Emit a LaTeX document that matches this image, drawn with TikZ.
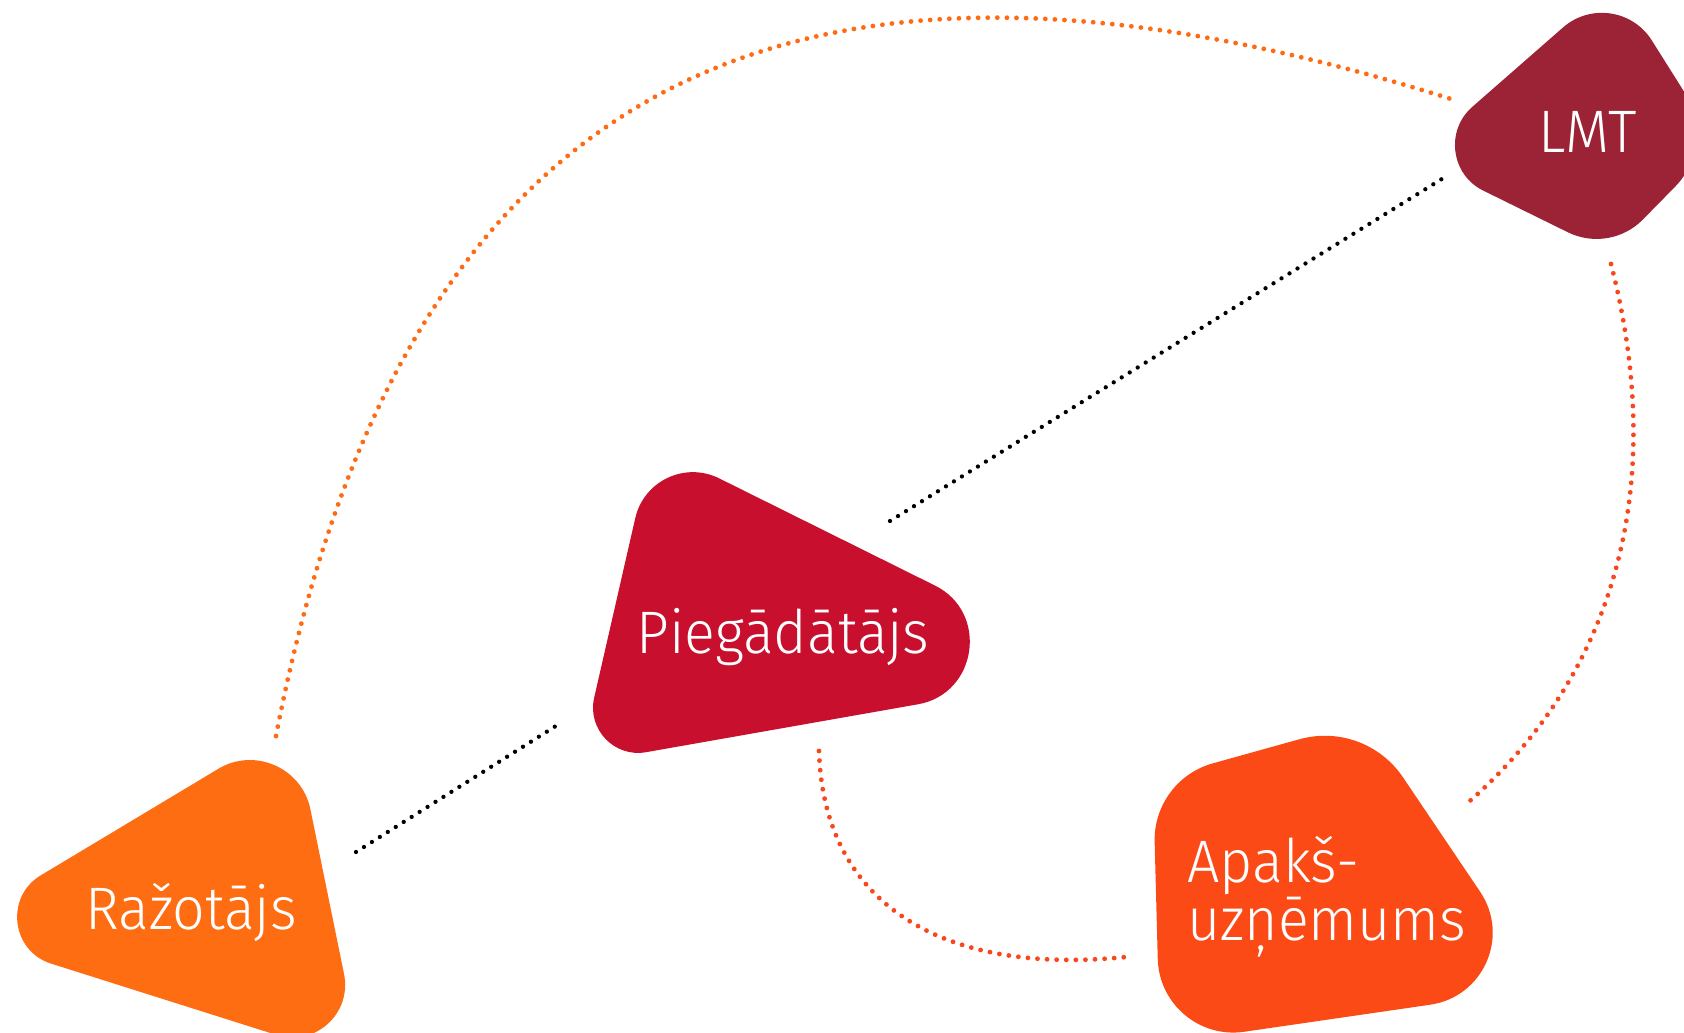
\documentclass[tikz,border=0pt]{standalone}
\usepackage{fontspec}
\IfFontExistsTF{Fira Sans Light}{\setmainfont{Fira Sans Light}[FakeStretch=0.955]}{\setmainfont{Fira Sans}[FakeStretch=0.955]}
\usetikzlibrary{calc}
\definecolor{cRaz}{HTML}{FF6D13}
\definecolor{cPie}{HTML}{C8102E}
\definecolor{cApa}{HTML}{FC4A17}
\definecolor{cLmt}{HTML}{9B2335}
\definecolor{cDotO}{HTML}{FF6A13}
\definecolor{cDotR}{HTML}{F9461C}
% rounded corner: prev, vertex, next, trim, control fraction
\newcommand\rcorner[5]{($(#2)!#4pt!(#1)$) .. controls ($(#2)!#5*#4pt!(#1)$) and ($(#2)!#5*#4pt!(#3)$) .. ($(#2)!#4pt!(#3)$)}
\begin{document}
\begin{tikzpicture}[x=1pt,y=-1pt,
  lbl/.style={text=white,inner sep=0pt,font=\fontsize{60}{58}\selectfont},
  dotsO/.style={draw=cDotO,line width=4.8,line cap=round,dash pattern=on 0pt off 9.6pt},
  dotsR/.style={draw=cDotR,line width=4.8,line cap=round,dash pattern=on 0pt off 9.6pt},
  dotsK/.style={draw=black,line width=4.3,line cap=round,dash pattern=on 0pt off 9.4pt}]
\useasboundingbox (0,0) rectangle (1684,1033);
\fill[white] (0,0) rectangle (1684,1033);
\clip (0,0) rectangle (1684,1033);
% vertices
\coordinate (rT) at (293,724);
\coordinate (rL) at (-52,931);
\coordinate (rB) at (362,1062);
\coordinate (pTL) at (652,445);
\coordinate (pBL) at (579,764);
\coordinate (pR) at (1107,671);
\coordinate (aTL) at (1153,780);
\coordinate (aT) at (1365,721);
\coordinate (aR) at (1545,988);
\coordinate (aBL) at (1160,1044);
\coordinate (lT) at (1615,-18);
\coordinate (lL) at (1415,157);
\coordinate (lB) at (1610,253);
\coordinate (lR) at (1717,144);
% connector ends
\coordinate (razTop) at (276,736);
\coordinate (lmtLeftUp) at (1451,99);
\coordinate (pieUp) at (890,521);
\coordinate (lmtLeftDown) at (1445,177);
\coordinate (razRight) at (356,852);
\coordinate (pieLeft) at (559,724);
\coordinate (lmtBottom) at (1611,264);
\coordinate (apaRight) at (1464,806);
\coordinate (pieBottom) at (819,751);
\coordinate (apaLeft) at (1126,957);
% connectors
\draw[dotsO] (razTop) .. controls (408,49) and (822,-100) .. (lmtLeftUp);
\draw[dotsK] (pieUp) -- (lmtLeftDown);
\draw[dotsK] (razRight) -- (pieLeft);
\draw[dotsR] (lmtBottom) .. controls (1673,506) and (1601,689) .. (apaRight);
\draw[dotsR] (pieBottom) .. controls (823.5,901) and (938,976) .. (apaLeft);
% shapes
\fill[cRaz] \rcorner{rB}{rT}{rL}{87}{0.514} -- \rcorner{rT}{rL}{rB}{108}{0.614} -- \rcorner{rL}{rB}{rT}{90}{0.547} -- cycle;
\fill[cPie] \rcorner{pR}{pTL}{pBL}{75}{0.49} -- \rcorner{pTL}{pBL}{pR}{68}{0.526} -- \rcorner{pBL}{pR}{pTL}{192}{0.685} -- cycle;
\fill[cApa] \rcorner{aBL}{aTL}{aT}{62}{0.412} -- \rcorner{aTL}{aT}{aR}{68}{0.402} -- \rcorner{aT}{aR}{aBL}{116}{0.536} -- \rcorner{aR}{aBL}{aTL}{85}{0.469} -- cycle;
\fill[cLmt] \rcorner{lR}{lT}{lL}{69}{0.475} -- \rcorner{lT}{lL}{lB}{76}{0.526} -- \rcorner{lL}{lB}{lR}{47}{0.402} -- \rcorner{lB}{lR}{lT}{60}{0.41} -- cycle;
% labels
\node[lbl,anchor=base] (lmt) at (1588,152) {LMT};
\node[lbl,anchor=base] (raz) at (191,929) {Ražotājs};
\node[lbl,anchor=base] (pie) at (783,653) {Piegādātājs};
\node[lbl,anchor=base west] (apa1) at (1187,882) {Apakš-};
\node[lbl,anchor=base west] (apa2) at (1187,940) {uzņēmums};
\end{tikzpicture}
\end{document}
